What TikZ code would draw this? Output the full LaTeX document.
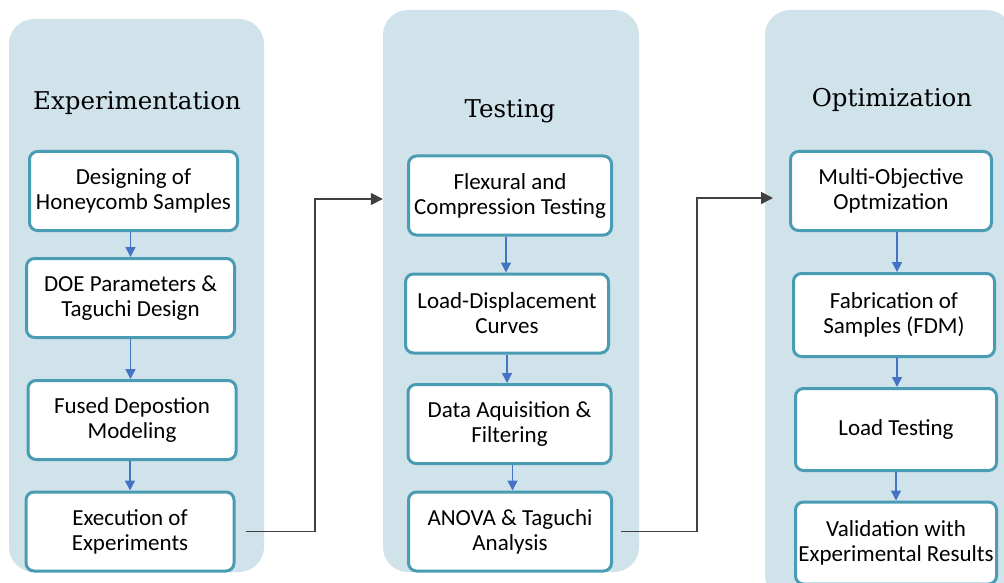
\documentclass[tikz,border=0pt]{standalone}
\usepackage{fontspec}
\setmainfont{Carlito}
\newfontfamily\titlefont{DejaVu Serif}
\usetikzlibrary{arrows.meta}
\definecolor{panelblue}{HTML}{D0E2EA}
\definecolor{boxteal}{HTML}{4A9CB4}
\definecolor{flowblue}{HTML}{4472C4}
\definecolor{linkgray}{HTML}{404040}

\begin{document}
\begin{tikzpicture}[
      x=1pt, y=-1pt,
      panel/.style={
        rectangle,
        rounded corners=25pt,
        fill=panelblue,
        inner sep=0pt
      },
      stage/.style={
        rectangle,
        rounded corners=8pt,
        draw=boxteal,
        line width=3pt,
        fill=white,
        minimum width=208pt,
        minimum height=79pt,
        inner sep=0pt,
        align=center,
        font=\fontsize{23}{25}\selectfont
      },
      heading/.style={anchor=base, font=\titlefont\fontsize{24.5}{28}\selectfont},
      flow/.style={-{Triangle[length=10pt, width=10pt]}, line width=1.5pt, flowblue},
      link/.style={-{Triangle[length=12pt, width=12pt]}, line width=1.6pt, linkgray}
    ]
      \useasboundingbox (0,0) rectangle (1004,583);
      \clip (0,0) rectangle (1004,583);

      \node[panel, minimum width=255pt, minimum height=553pt] (expt) at (136.5,295.5) {};
      \node[panel, minimum width=256pt, minimum height=562pt] (test) at (511,291) {};
      \node[panel, minimum width=247pt, minimum height=590pt] (opt) at (888.5,305) {};

      \node[heading] (exptitle) at (137,110) {Experimentation};
      \node[heading] (testtitle) at (510,118) {Testing};
      \node[heading] (opttitle) at (892,107) {Optimization};

      \node[stage] (e1) at (133.5,191) {Designing of\\Honeycomb Samples};
      \node[stage] (e2) at (130.5,298) {DOE Parameters \&\\Taguchi Design};
      \node[stage] (e3) at (132,420) {Fused Depostion\\Modeling};
      \node[stage] (e4) at (130,531.5) {Execution of\\Experiments};

      \node[stage, minimum width=203pt] (t1) at (510,195.5) {Flexural and\\Compression Testing};
      \node[stage, minimum width=203pt] (t2) at (507,313.5) {Load-Displacement\\Curves};
      \node[stage, minimum width=203pt] (t3) at (509.5,424) {Data Aquisition \&\\Filtering};
      \node[stage, minimum width=203pt] (t4) at (510,531.5) {ANOVA \& Taguchi\\Analysis};

      \node[stage, minimum width=201pt] (o1) at (891,191) {Multi-Objective\\Optmization};
      \node[stage, minimum width=201pt, minimum height=83pt] (o2) at (894,315) {Fabrication of\\Samples (FDM)};
      \node[stage, minimum width=201pt, minimum height=82pt] (o3) at (896,429.5) {Load Testing};
      \node[stage, minimum width=201pt, minimum height=82pt] (o4) at (896,543) {Validation with\\Experimental Results};

      \draw[flow] ([xshift=-3pt]e1.south) -- ([xshift=-3pt]e1.south |- e2.north);
      \draw[flow] (e2.south) -- (e2.south |- e3.north);
      \draw[flow] ([xshift=-2pt]e3.south) -- ([xshift=-2pt]e3.south |- e4.north);

      \draw[flow] ([xshift=-4pt]t1.south) -- ([xshift=-4pt]t1.south |- t2.north);
      \draw[flow] (t2.south) -- (t2.south |- t3.north);
      \draw[flow] ([xshift=3pt]t3.south) -- ([xshift=3pt]t3.south |- t4.north);

      \draw[flow] ([xshift=6pt]o1.south) -- ([xshift=6pt]o1.south |- o2.north);
      \draw[flow] ([xshift=3pt]o2.south) -- ([xshift=3pt]o2.south |- o3.north);
      \draw[flow] (o3.south) -- (o3.south |- o4.north);

      \coordinate (bend1) at (315,199);
      \coordinate (bend2) at (697,198);
      \coordinate (entry2) at (773,198);

      \draw[link] ([xshift=10pt]e4.east) -| (bend1) -- (bend1 -| test.west);
      \draw[link] ([xshift=8pt]t4.east) -| (bend2) -- (entry2);
    \end{tikzpicture}
\end{document}
